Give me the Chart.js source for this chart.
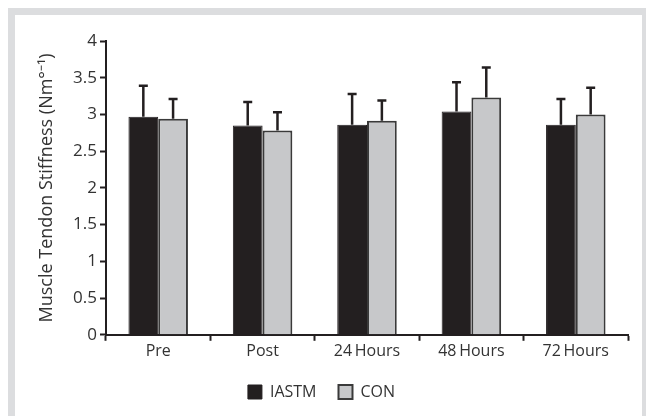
<!DOCTYPE html>
<html>
<head>
<meta charset="utf-8">
<script src="https://cdn.jsdelivr.net/npm/chart.js@4"></script>
<style>
  html, body { margin: 0; padding: 0; background: #fff; }
  #frame {
    position: absolute; left: 8px; top: 8px;
    width: 627px; height: 401px;
    border-left: 7px solid #dcdddf;
    border-top: 7px solid #dcdddf;
    border-right: 4px solid #dcdddf;
  }
  #wrap { width: 627px; height: 401px; }
</style>
</head>
<body>
<div id="frame"><div id="wrap"><canvas id="myChart"></canvas></div></div>
<script>
const categories = ["Pre", "Post", "24\u2009Hours", "48\u2009Hours", "72\u2009Hours"];
const iastmValues = [2.97, 2.85, 2.86, 3.04, 2.86];
const iastmErrTop = [3.39, 3.17, 3.28, 3.44, 3.21];
const conValues = [2.94, 2.78, 2.915, 3.23, 3.0];
const conErrTop = [3.21, 3.03, 3.19, 3.64, 3.365];
const yTicks = [0, 0.5, 1, 1.5, 2, 2.5, 3, 3.5, 4];

const errorBars = {
  id: "errorBars",
  afterDatasetsDraw(chart) {
    const ctx = chart.ctx;
    const y = chart.scales.y;
    chart.data.datasets.forEach((ds, d) => {
      const meta = chart.getDatasetMeta(d);
      meta.data.forEach((bar, i) => {
        const top = y.getPixelForValue(ds.errTop[i]);
        ctx.save();
        ctx.strokeStyle = "#231f20";
        ctx.lineWidth = 2.5;
        ctx.beginPath();
        ctx.moveTo(bar.x, bar.y);
        ctx.lineTo(bar.x, top);
        ctx.moveTo(bar.x - 4.5, top);
        ctx.lineTo(bar.x + 4.5, top);
        ctx.stroke();
        ctx.restore();
      });
    });
  },
};

new Chart("myChart", {
  type: "bar",
  data: {
    labels: categories,
    datasets: [
      {
        label: "IASTM",
        data: iastmValues,
        errTop: iastmErrTop,
        backgroundColor: "#231f20",
        borderColor: "#231f20",
        borderWidth: 1,
      },
      {
        label: "CON",
        data: conValues,
        errTop: conErrTop,
        backgroundColor: "#c7c8ca",
        borderColor: "#3a3a3a",
        borderWidth: 2,
      },
    ],
  },
  options: {
    responsive: true,
    maintainAspectRatio: false,
    animation: false,
    categoryPercentage: 0.57,
    barPercentage: 1,
    layout: { padding: { top: 26, right: 14, left: 0, bottom: 6 } },
    plugins: {
      tooltip: { enabled: false },
      legend: {
        display: true,
        position: "bottom",
        labels: {
          color: "#333",
          font: { family: "Open Sans", size: 16 },
          boxWidth: 14,
          boxHeight: 14,
          padding: 22,
        },
      },
    },
    scales: {
      x: {
        offset: true,
        grid: { display: true, drawOnChartArea: false, offset: true, color: "#231f20", tickLength: 6, tickWidth: 2 },
        border: { display: true, color: "#231f20", width: 2 },
        ticks: { color: "#333", font: { family: "Open Sans", size: 16 }, padding: 1 },
      },
      y: {
        min: 0,
        max: 4,
        afterBuildTicks(scale) {
          scale.ticks = yTicks.map((v) => ({ value: v }));
        },
        afterFit(scale) {
          scale.width = 91;
        },
        grid: { display: true, drawOnChartArea: false, color: "#231f20", tickLength: 6, tickWidth: 2 },
        border: { display: true, color: "#231f20", width: 2 },
        ticks: {
          color: "#333",
          font: { family: "Open Sans", size: 17 },
          padding: 3,
          callback: (v) => String(v),
        },
        title: {
          display: true,
          text: "Muscle Tendon Stiffness (Nm°\u207B\u00B9)",
          color: "#333",
          font: { family: "Open Sans", size: 18 },
          padding: { top: 21, bottom: 0 },
        },
      },
    },
  },
  plugins: [errorBars],
});
</script>
</body>
</html>
